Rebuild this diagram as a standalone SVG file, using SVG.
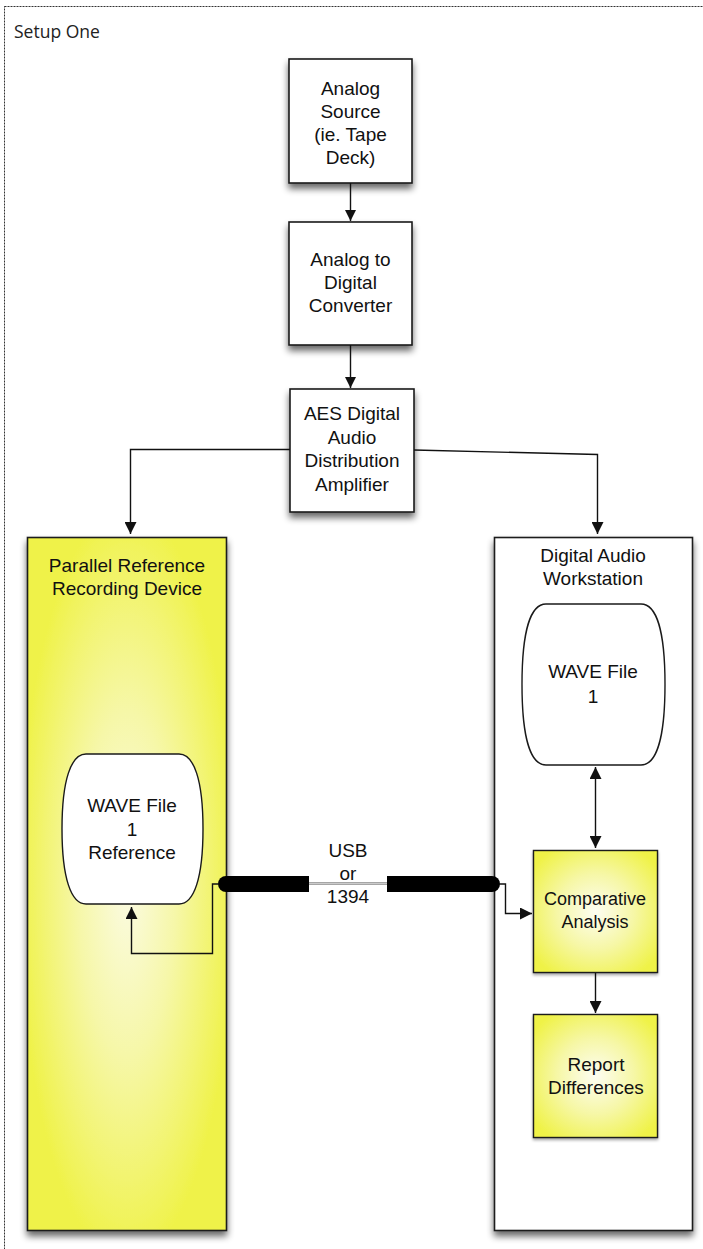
<svg xmlns="http://www.w3.org/2000/svg" width="703" height="1249" viewBox="0 0 703 1249">
  <style>
    .box { fill: #ffffff; stroke: #1a1a1a; stroke-width: 1.6; }
    .lbl { font-family: "Liberation Sans", Arial, sans-serif; font-size: 19px; fill: #111; text-anchor: middle; }
    .sm { font-size: 18px; }
    .wire { fill: none; stroke: #111; stroke-width: 1.4; }
    .barrel { fill: #ffffff; stroke: #1a1a1a; stroke-width: 1.4; }
  </style>
  <defs>
    <filter id="shadow" x="-20%" y="-20%" width="140%" height="140%">
      <feGaussianBlur in="SourceAlpha" stdDeviation="3.5"/>
      <feOffset dx="0" dy="5" result="b"/>
      <feComponentTransfer><feFuncA type="linear" slope="0.6"/></feComponentTransfer>
      <feMerge><feMergeNode/><feMergeNode in="SourceGraphic"/></feMerge>
    </filter>
    <filter id="shadowSoft" x="-20%" y="-20%" width="140%" height="140%">
      <feGaussianBlur in="SourceAlpha" stdDeviation="1.5"/>
      <feOffset dx="0" dy="2" result="b"/>
      <feComponentTransfer><feFuncA type="linear" slope="0.35"/></feComponentTransfer>
      <feMerge><feMergeNode/><feMergeNode in="SourceGraphic"/></feMerge>
    </filter>
    <radialGradient id="yellowTall" cx="0.5" cy="0.5" r="0.55">
      <stop offset="0" stop-color="#fbfbe2"/>
      <stop offset="0.45" stop-color="#f6f7a8"/>
      <stop offset="1" stop-color="#eff248"/>
    </radialGradient>
    <radialGradient id="yellowSq" cx="0.5" cy="0.5" r="0.62">
      <stop offset="0" stop-color="#fdfdf2"/>
      <stop offset="0.5" stop-color="#f6f7a6"/>
      <stop offset="1" stop-color="#eff246"/>
    </radialGradient>
    <marker id="arrow" viewBox="0 0 10 10" refX="10" refY="5" markerWidth="11" markerHeight="11" markerUnits="userSpaceOnUse" orient="auto-start-reverse">
      <path d="M0,0 L10,5 L0,10 Z" fill="#111"/>
    </marker>
    <marker id="arrowL" viewBox="0 0 10 10" refX="10" refY="5" markerWidth="12" markerHeight="12" markerUnits="userSpaceOnUse" orient="auto-start-reverse">
      <path d="M0,0 L10,5 L0,10 Z" fill="#111"/>
    </marker>
  </defs>

  <rect width="703" height="1249" fill="#ffffff"/>

  <!-- page frame -->
  <rect x="4.5" y="6.5" width="760" height="1300" fill="none" stroke="#333" stroke-width="1" stroke-dasharray="2 1"/>
  <text x="14" y="38" style="font-family:'Open Sans','DejaVu Sans',sans-serif;font-size:17.5px;fill:#222">Setup One</text>

  <!-- containers -->
  <g id="parallel-reference">
    <rect x="27.5" y="537.5" width="199" height="693" fill="url(#yellowTall)" stroke="#1a1a1a" stroke-width="1.6" filter="url(#shadow)"/>
    <text class="lbl" x="127" y="572">Parallel Reference</text>
    <text class="lbl" x="127" y="595">Recording Device</text>
  </g>

  <g id="daw">
    <rect class="box" x="494.5" y="537.5" width="198" height="693" filter="url(#shadow)"/>
    <text class="lbl" x="593" y="562">Digital Audio</text>
    <text class="lbl" x="593" y="585">Workstation</text>
  </g>

  <!-- process boxes -->
  <g id="analog-source">
    <rect class="box" x="289" y="59" width="123" height="124" filter="url(#shadow)"/>
    <text class="lbl" x="350.5" y="95">Analog</text>
    <text class="lbl" x="350.5" y="118">Source</text>
    <text class="lbl" x="350.5" y="141">(ie. Tape</text>
    <text class="lbl" x="350.5" y="164">Deck)</text>
  </g>

  <g id="ad-converter">
    <rect class="box" x="289" y="222" width="123" height="123" filter="url(#shadow)"/>
    <text class="lbl" x="350.5" y="266">Analog to</text>
    <text class="lbl" x="350.5" y="289">Digital</text>
    <text class="lbl" x="350.5" y="312">Converter</text>
  </g>

  <g id="aes-da">
    <rect class="box" x="290" y="389" width="124" height="123" filter="url(#shadow)"/>
    <text class="lbl" x="352" y="420">AES Digital</text>
    <text class="lbl" x="352" y="444">Audio</text>
    <text class="lbl" x="352" y="467">Distribution</text>
    <text class="lbl" x="352" y="491">Amplifier</text>
  </g>

  <g id="wave-file-daw">
    <path class="barrel" d="M546,604 L641,604 C656,604 665,630 665,684.5 C665,739 656,765 641,765 L546,765 C531,765 522,739 522,684.5 C522,630 531,604 546,604 Z"/>
    <text class="lbl" x="593" y="678">WAVE File</text>
    <text class="lbl" x="593" y="703">1</text>
  </g>

  <g id="wave-file-reference">
    <path class="barrel" d="M86,754 L179,754 C194,754 203,780 203,829 C203,878 194,904 179,904 L86,904 C71,904 62,878 62,829 C62,780 71,754 86,754 Z"/>
    <text class="lbl" x="132" y="812">WAVE File</text>
    <text class="lbl" x="132" y="836">1</text>
    <text class="lbl" x="132" y="859">Reference</text>
  </g>

  <g id="comparative-analysis">
    <rect x="533.5" y="850.5" width="124" height="122" fill="url(#yellowSq)" stroke="#1a1a1a" stroke-width="1.4" filter="url(#shadowSoft)"/>
    <text class="lbl sm" x="595" y="905">Comparative</text>
    <text class="lbl sm" x="595" y="928">Analysis</text>
  </g>

  <g id="report-differences">
    <rect x="533.5" y="1014.5" width="124" height="123" fill="url(#yellowSq)" stroke="#1a1a1a" stroke-width="1.4" filter="url(#shadowSoft)"/>
    <text class="lbl" x="596" y="1071">Report</text>
    <text class="lbl" x="596" y="1094">Differences</text>
  </g>

  <!-- connectors -->
  <g id="connectors">
    <path class="wire" d="M350.5,183 V221" marker-end="url(#arrow)"/>
    <path class="wire" d="M350.5,345 V388" marker-end="url(#arrow)"/>
    <path class="wire" d="M290,449.5 H130.5 V534" marker-end="url(#arrowL)"/>
    <path class="wire" d="M414,450 L597.5,454.5 V534" marker-end="url(#arrowL)"/>
    <path class="wire" d="M595.5,767 V848" marker-start="url(#arrowL)" marker-end="url(#arrowL)"/>
    <path class="wire" d="M595.5,973 V1013" marker-end="url(#arrowL)"/>
    <!-- cable between the two machines -->
    <line x1="305" y1="883.5" x2="392" y2="883.5" stroke="#888" stroke-width="2.5"/>
    <line x1="305" y1="883.5" x2="392" y2="883.5" stroke="#dcdcdc" stroke-width="0.8"/>
    <path d="M226,876 H309 V892 H226 A8,8 0 0 1 226,876 Z" fill="#000"/>
    <path d="M387,876 H492 A8,8 0 0 1 492,892 H387 Z" fill="#000"/>
    <path class="wire" d="M219,884 H212.5 V953.5 H131.5 V907" marker-end="url(#arrowL)"/>
    <path class="wire" d="M499,884 H505.5 V913.5 H532" marker-end="url(#arrowL)"/>
    <text class="lbl" x="348" y="857">USB</text>
    <text class="lbl" x="348" y="880">or</text>
    <text class="lbl" x="348" y="903">1394</text>
  </g>
</svg>
